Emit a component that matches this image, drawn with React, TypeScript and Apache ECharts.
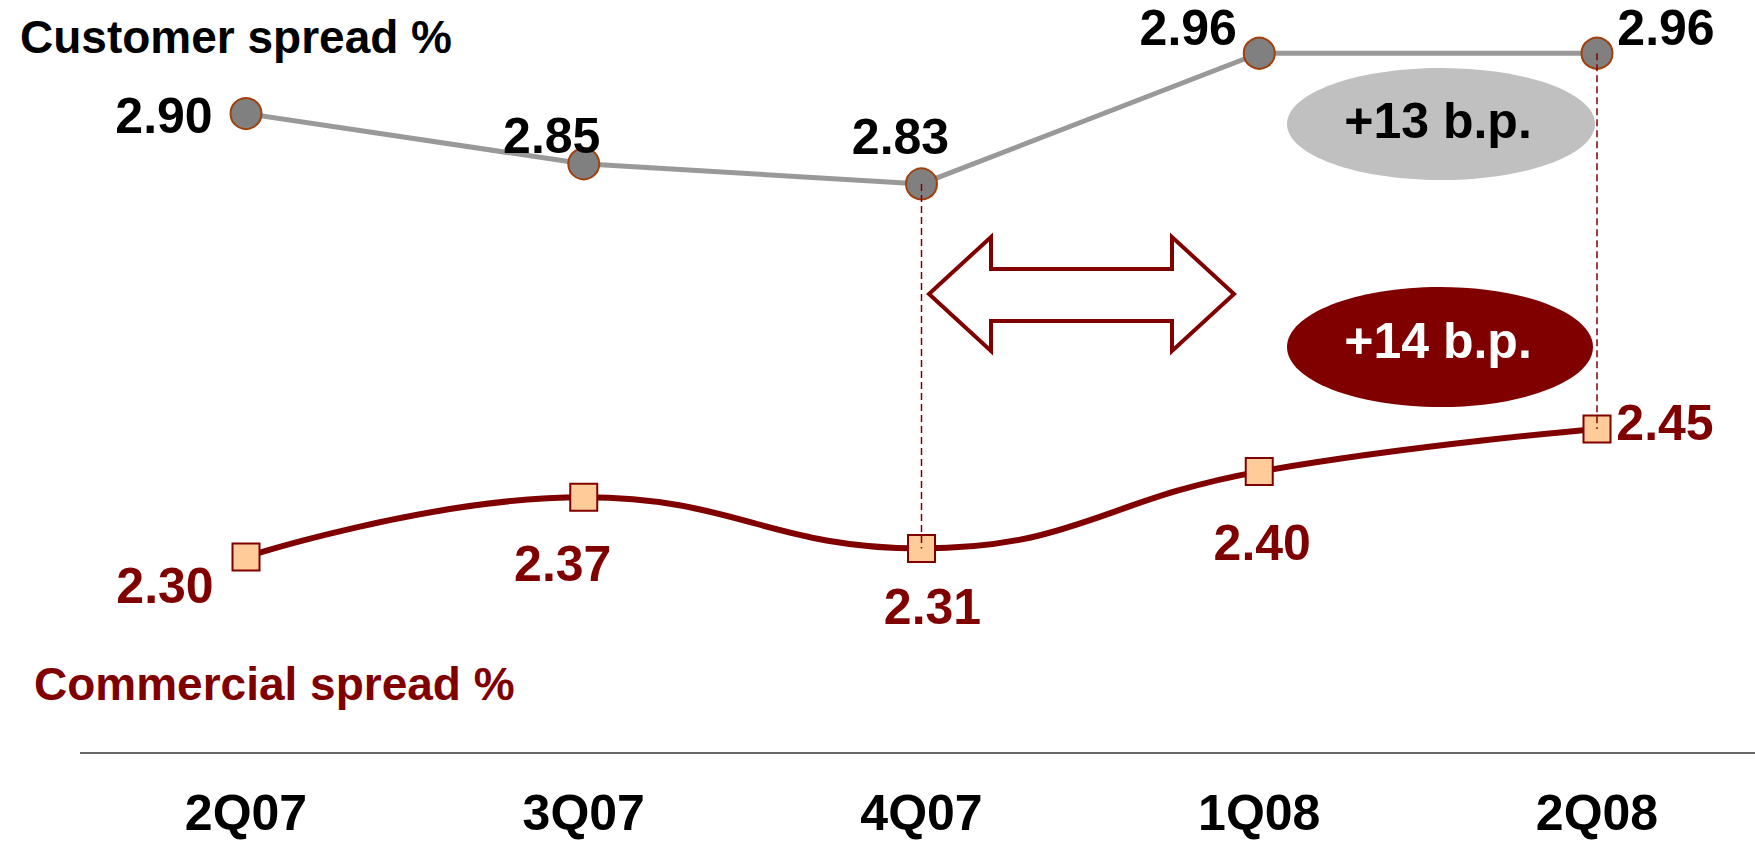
import React, { useEffect, useRef } from "react";
import * as echarts from "echarts";

// Quarterly spreads (%)
const quarters = ["2Q07", "3Q07", "4Q07", "1Q08", "2Q08"];
const customerSpread = [2.9, 2.85, 2.83, 2.96, 2.96];
const commercialSpread = [2.3, 2.37, 2.31, 2.4, 2.45];

// Change measured from 4Q07 to 2Q08, in basis points
const fromIdx = 2;
const toIdx = 4;

// Label placement (pixel offsets from each marker)
const customerLabelOffsets = [
  [-82, 2],
  [-32, -28],
  [-21, -47],
  [-71, -25],
  [69, -25],
];
const commercialLabelOffsets = [
  [-81, 29],
  [-21, 67],
  [11, 59],
  [3, 71],
  [68, -6],
];

const FONT = "'Liberation Sans', Arial, sans-serif";
const DARK_RED = "#800000";

const bp = (arr: number[]) => {
  const d = Math.round((arr[toIdx] - arr[fromIdx]) * 100);
  return (d >= 0 ? "+" : "") + d + " b.p.";
};

export default function App() {
  const ref = useRef<HTMLDivElement>(null);

  useEffect(() => {
    const chart = echarts.init(ref.current!, null, { renderer: "svg" });

    const labelStyle = (color: string) => ({
      show: true,
      position: "inside",
      fontFamily: FONT,
      fontWeight: "bold",
      fontSize: 50,
      color,
      formatter: (p: any) => Number(p.value).toFixed(2),
    });

    const option: any = {
      animation: false,
      backgroundColor: "#ffffff",
      grid: { left: 246, right: 158, top: 20, bottom: 90 },
      xAxis: {
        type: "category",
        data: quarters,
        boundaryGap: false,
        axisLine: { show: false },
        axisTick: { show: false },
        splitLine: { show: false },
        axisLabel: {
          margin: 60,
          verticalAlign: "middle",
          lineHeight: 44,
          fontFamily: FONT,
          fontWeight: "bold",
          fontSize: 50,
          color: "#000000",
        },
      },
      yAxis: [
        { type: "value", min: 2.2638, max: 2.9931, show: false, splitLine: { show: false } },
        { type: "value", min: 2.0703, max: 2.9291, show: false, splitLine: { show: false } },
      ],
      series: [
        {
          name: "Customer spread %",
          type: "line",
          yAxisIndex: 0,
          data: customerSpread.map((v, i) => ({
            value: v,
            label: { offset: customerLabelOffsets[i] },
          })),
          lineStyle: { color: "#999999", width: 5 },
          symbol: "circle",
          symbolSize: 31,
          itemStyle: { color: "#808080", borderColor: "#A0410D", borderWidth: 2 },
          label: labelStyle("#000000"),
          z: 3,
        },
        {
          name: "Commercial spread %",
          type: "line",
          yAxisIndex: 1,
          smooth: 0.45,
          data: commercialSpread.map((v, i) => ({
            value: v,
            label: { offset: commercialLabelOffsets[i] },
          })),
          lineStyle: { color: DARK_RED, width: 6 },
          symbol: "rect",
          symbolSize: 27,
          itemStyle: { color: "#FFCC99", borderColor: DARK_RED, borderWidth: 2 },
          label: labelStyle(DARK_RED),
          z: 3,
        },
      ],
    };

    chart.setOption(option);

    // Dashed connectors between the two series at 4Q07 and 2Q08
    const connector = (i: number) => {
      const top = chart.convertToPixel({ seriesIndex: 0 }, [i, customerSpread[i]]) as number[];
      const bottom = chart.convertToPixel({ seriesIndex: 1 }, [i, commercialSpread[i]]) as number[];
      return {
        type: "line",
        z: 10,
        shape: { x1: top[0], y1: top[1], x2: bottom[0], y2: bottom[1] },
        style: { stroke: DARK_RED, lineWidth: 1.5, lineDash: [7, 4] },
      };
    };

    chart.setOption({
      graphic: [
        {
          type: "text",
          left: 20,
          top: 14,
          style: {
            text: "Customer spread %",
            fontFamily: FONT,
            fontWeight: "bold",
            fontSize: 46,
            fill: "#000000",
          },
        },
        {
          type: "text",
          left: 34,
          top: 661,
          style: {
            text: "Commercial spread %",
            fontFamily: FONT,
            fontWeight: "bold",
            fontSize: 46,
            fill: DARK_RED,
          },
        },
        {
          type: "line",
          shape: { x1: 80, y1: 753, x2: 1755, y2: 753 },
          style: { stroke: "#333333", lineWidth: 1.5 },
        },
        {
          type: "polygon",
          shape: {
            points: [
              [929, 294],
              [991, 237],
              [991, 269],
              [1172, 269],
              [1172, 237],
              [1234, 294],
              [1172, 351],
              [1172, 321],
              [991, 321],
              [991, 351],
            ],
          },
          style: { fill: "#ffffff", stroke: DARK_RED, lineWidth: 4, lineJoin: "miter" },
        },
        {
          type: "ellipse",
          shape: { cx: 1441, cy: 124, rx: 154, ry: 56 },
          style: { fill: "#C0C0C0" },
        },
        {
          type: "text",
          x: 1438,
          y: 121,
          style: {
            text: bp(customerSpread),
            fontFamily: FONT,
            fontWeight: "bold",
            fontSize: 50,
            fill: "#000000",
            align: "center",
            verticalAlign: "middle",
          },
        },
        {
          type: "ellipse",
          shape: { cx: 1440, cy: 347, rx: 153, ry: 60 },
          style: { fill: DARK_RED },
        },
        {
          type: "text",
          x: 1438,
          y: 341,
          style: {
            text: bp(commercialSpread),
            fontFamily: FONT,
            fontWeight: "bold",
            fontSize: 50,
            fill: "#ffffff",
            align: "center",
            verticalAlign: "middle",
          },
        },
        connector(fromIdx),
        connector(toIdx),
      ],
    });

    return () => chart.dispose();
  }, []);

  return (
    <div
      ref={ref}
      style={{ position: "fixed", left: 0, top: 0, width: 1755, height: 843, background: "#ffffff" }}
    />
  );
}
